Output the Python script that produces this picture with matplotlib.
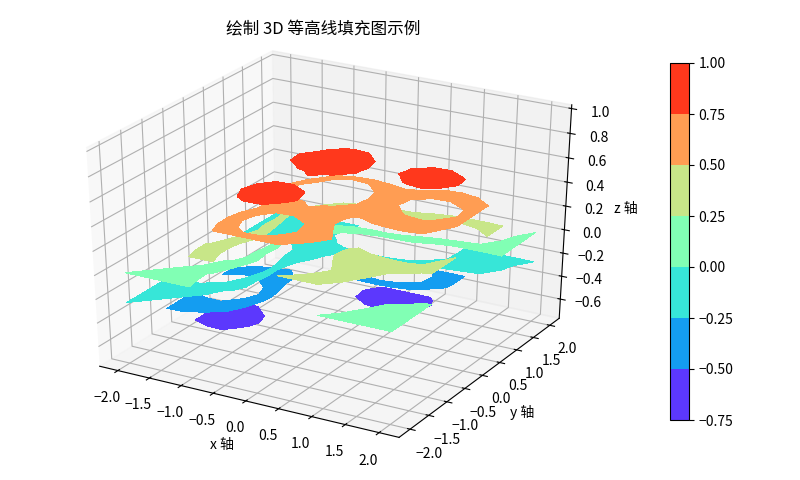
import numpy as np
import matplotlib
matplotlib.use('Agg')
import matplotlib.pyplot as plt
from matplotlib.cm import ScalarMappable
from matplotlib.colors import BoundaryNorm, ListedColormap

plt.rcParams['font.family'] = ['Noto Sans CJK SC', 'DejaVu Sans']

# grid
x_vals = [-2, -1.75, -1.5, -1.25, -1, -0.75, -0.5, -0.25, 0, 0.25, 0.5, 0.75, 1, 1.25, 1.5, 1.75, 2]
y_vals = [-2, -1.75, -1.5, -1.25, -1, -0.75, -0.5, -0.25, 0, 0.25, 0.5, 0.75, 1, 1.25, 1.5, 1.75, 2]

# height at each grid point, first row is y=-2, last row is y=2
z_rows = [
    [0.00, 0.05, 0.10, 0.17, 0.25, 0.42, 0.58, 0.65, 0.60, 0.54, 0.42, 0.29, 0.23, 0.17, 0.13, 0.10, 0.08],
    [-0.04, 0.00, 0.07, 0.15, 0.27, 0.45, 0.70, 0.82, 0.84, 0.68, 0.58, 0.44, 0.30, 0.23, 0.17, 0.13, 0.10],
    [-0.10, -0.06, 0.00, 0.17, 0.27, 0.45, 0.74, 0.96, 0.95, 0.82, 0.62, 0.56, 0.38, 0.27, 0.22, 0.17, 0.13],
    [-0.17, -0.13, -0.07, 0.00, 0.15, 0.40, 0.68, 0.93, 0.92, 0.78, 0.60, 0.48, 0.42, 0.30, 0.25, 0.20, 0.17],
    [-0.27, -0.27, -0.20, -0.07, 0.05, 0.30, 0.55, 0.72, 0.74, 0.68, 0.55, 0.42, 0.38, 0.38, 0.34, 0.28, 0.22],
    [-0.35, -0.37, -0.35, -0.25, -0.10, 0.20, 0.57, 0.72, 0.73, 0.68, 0.55, 0.46, 0.50, 0.52, 0.54, 0.50, 0.36],
    [-0.42, -0.47, -0.48, -0.38, -0.15, 0.25, 0.62, 0.73, 0.78, 0.73, 0.63, 0.55, 0.56, 0.58, 0.60, 0.58, 0.44],
    [-0.55, -0.63, -0.62, -0.47, -0.22, 0.20, 0.75, 0.92, 0.97, 0.95, 0.74, 0.65, 0.68, 0.78, 0.82, 0.70, 0.52],
    [-0.58, -0.66, -0.72, -0.58, -0.30, 0.30, 0.80, 0.96, 1.00, 0.96, 0.76, 0.68, 0.76, 0.95, 0.97, 0.80, 0.66],
    [-0.55, -0.65, -0.68, -0.50, -0.24, 0.10, 0.55, 0.87, 0.95, 0.93, 0.74, 0.68, 0.74, 0.93, 0.95, 0.78, 0.66],
    [-0.45, -0.52, -0.50, -0.42, -0.20, -0.04, 0.13, 0.65, 0.80, 0.75, 0.63, 0.55, 0.58, 0.68, 0.70, 0.62, 0.53],
    [-0.22, -0.30, -0.36, -0.33, -0.22, -0.10, 0.05, 0.15, 0.30, 0.38, 0.38, 0.36, 0.42, 0.55, 0.58, 0.50, 0.40],
    [-0.15, -0.20, -0.22, -0.25, -0.22, -0.15, -0.05, -0.03, -0.02, -0.03, 0.02, 0.10, 0.20, 0.25, 0.26, 0.26, 0.25],
    [-0.10, -0.10, -0.10, -0.13, -0.15, -0.20, -0.35, -0.45, -0.47, -0.42, -0.33, -0.17, -0.13, -0.07, -0.02, 0.06, 0.17],
    [-0.12, -0.13, -0.13, -0.15, -0.18, -0.30, -0.50, -0.63, -0.70, -0.66, -0.52, -0.38, -0.20, -0.12, -0.07, 0.00, 0.07],
    [-0.10, -0.10, -0.10, -0.12, -0.17, -0.30, -0.52, -0.66, -0.72, -0.68, -0.55, -0.37, -0.22, -0.13, -0.07, -0.02, 0.04],
    [-0.10, -0.10, -0.10, -0.12, -0.15, -0.25, -0.43, -0.55, -0.60, -0.57, -0.47, -0.33, -0.23, -0.14, -0.08, -0.03, 0.00],
]
levels = [-0.75, -0.5, -0.25, 0.0, 0.25, 0.5, 0.75, 1.0]
xy_ticks = [-2.0, -1.5, -1.0, -0.5, 0.0, 0.5, 1.0, 1.5, 2.0]
z_ticks = [-0.6, -0.4, -0.2, 0.0, 0.2, 0.4, 0.6, 0.8, 1.0]

X, Y = np.meshgrid(x_vals, y_vals)
Z = np.array(z_rows)

fig = plt.figure(figsize=(8, 4.8), dpi=100)
ax = fig.add_subplot(projection='3d', computed_zorder=False)
# the reference box is stretched to the axes rectangle, not kept square
ax.apply_aspect = lambda position=None: None
ax.set_position([35 / 800, 28 / 480, 581 / 800, 419 / 480])
ax.set_box_aspect((1, 1, 1))

# each band sits at its lower level in the reference
cmap = plt.get_cmap('rainbow')
band_colors = []
for lo, hi in zip(levels[:-1], levels[1:]):
    color = cmap(((lo + hi) / 2 - levels[0]) / (levels[-1] - levels[0]))
    band_colors.append(color)
    ax.contourf(X, Y, Z, levels=[lo, hi], colors=[color], offset=lo)

ax.set_zlim(-0.77, 1.03)
ax.set_xticks(xy_ticks)
ax.set_yticks(xy_ticks)
ax.set_zticks(z_ticks)
ax.set_title('绘制 3D 等高线填充图示例', x=288 / 581, y=1.084, pad=0)
ax.set_xlabel('x 轴')
ax.set_ylabel('y 轴')
ax.set_zlabel('z 轴')

cax = fig.add_axes([670 / 800, 60 / 480, 19 / 800, 357 / 480])
sm = ScalarMappable(norm=BoundaryNorm(levels, len(band_colors)), cmap=ListedColormap(band_colors))
fig.colorbar(sm, cax=cax, ticks=levels)
fig.savefig('out.png', dpi=100)
